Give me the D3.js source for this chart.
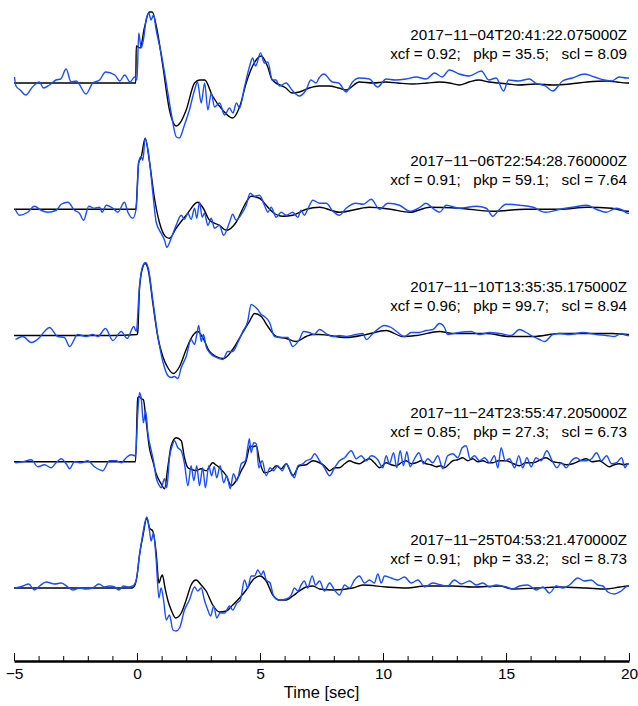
<!DOCTYPE html>
<html>
<head>
<meta charset="utf-8">
<script src="https://cdn.jsdelivr.net/npm/d3@7"></script>
<style>
  body { margin: 0; background: #fff; }
  text { font-family: "Liberation Sans", Arial, Helvetica, sans-serif; }
</style>
</head>
<body>
<script>
// traces: [time (sec), relative amplitude]; black = synthetic, blue = observed
var synth1 = [[-5,0],[-0.05,0],[-0.03,37],[0.13,35],[0.3,55],[0.5,71],[0.62,71],[0.8,55],[1.05,17],[1.32,-27],[1.6,-43],[1.75,-40],[2.0,-27],[2.34,0],[2.55,3],[2.75,3],[3.07,-13],[3.48,-27],[3.88,-35],[4.17,-24],[4.44,0],[4.7,17],[5.05,27],[5.3,17],[5.5,3],[6.05,-5],[6.3,-10],[6.6,-9],[7.0,-5],[7.4,-3],[7.8,-3],[8.2,-5],[8.5,-7],[9.04,1],[9.6,0],[10.1,1],[10.6,0],[11.2,-1],[11.8,0],[12.3,1],[12.7,0],[13.1,-2],[13.5,1],[13.9,3],[14.3,1],[14.7,0],[15.1,-1],[15.5,-2],[16.2,-1],[16.9,-2],[17.6,-1],[18.3,1],[19.1,2],[19.5,1],[19.9,0],[20,0]];
var obs1 = [[-4.98,6],[-4.92,-3],[-4.75,-7],[-4.52,-12],[-4.25,-4],[-3.97,1],[-3.8,-5],[-3.56,-2],[-3.29,3],[-3.1,4],[-2.88,14],[-2.68,1],[-2.47,2],[-2.07,-11],[-1.8,0],[-1.52,3],[-1.28,11],[-0.9,8],[-0.7,2],[-0.5,8],[-0.28,1],[-0.1,6],[0.0,3],[0.07,50],[0.17,35],[0.26,43],[0.37,63],[0.48,70],[0.57,63],[0.67,68],[0.78,53],[0.98,30],[1.19,0],[1.39,-30],[1.6,-54],[1.72,-55],[1.93,-42],[2.13,-27],[2.34,-7],[2.46,1],[2.61,-20],[2.75,0],[2.88,-27],[3.02,-10],[3.15,-24],[3.36,-20],[3.56,-32],[3.76,-25],[3.9,-30],[4.04,-20],[4.17,-25],[4.37,-4],[4.57,16],[4.7,25],[4.82,17],[5.02,30],[5.18,20],[5.32,21],[5.5,3],[5.65,3],[5.79,-3],[6.06,0],[6.3,-7],[6.6,-13],[6.87,-7],[7.07,3],[7.28,0],[7.4,5],[7.6,9],[7.94,1],[8.2,0],[8.5,-9],[8.76,1],[9.04,5],[9.45,4],[9.78,-4],[10.13,4],[10.5,3],[10.94,4],[11.35,6],[11.75,4],[12.1,10],[12.4,6],[12.7,13],[13.1,9],[13.5,7],[14.0,12],[14.3,3],[14.6,5],[14.9,-8],[15.1,3],[15.5,2],[15.95,4],[16.2,0],[16.6,-3],[16.9,-8],[17.3,2],[17.7,5],[18.2,9],[18.6,6],[19.0,3],[19.3,2],[19.6,6],[19.9,5],[20,5]];

var synth2 = [[-5,0],[-0.05,0],[0.07,47],[0.17,52],[0.33,71],[0.51,47],[0.71,11],[0.91,-13],[1.19,-28],[1.32,-29],[1.59,-19],[2.0,-6],[2.47,7],[2.67,2],[2.95,-11],[3.35,-16],[3.63,-21],[4.03,-13],[4.37,4],[4.64,13],[4.98,11],[5.25,4],[5.52,-3],[5.93,-7],[6.33,-6],[6.88,0],[7.42,2],[8.23,-3],[9.45,2],[10.3,0],[11.1,-3],[11.9,2],[13.1,1],[14.45,-2],[15.8,0],[17.2,0],[18.3,2],[19.3,1],[19.95,-2],[20,-2]];
var obs2 = [[-4.95,0],[-4.78,-6],[-4.44,-3],[-4.17,3],[-3.9,-1],[-3.63,-3],[-3.28,-1],[-3.08,5],[-2.81,7],[-2.54,-1],[-2.34,-4],[-2.17,-11],[-1.96,3],[-1.73,1],[-1.52,2],[-1.42,-3],[-1.25,4],[-0.98,1],[-0.78,-3],[-0.51,7],[-0.37,-3],[-0.17,-9],[-0.03,1],[0.07,47],[0.17,53],[0.24,49],[0.33,71],[0.48,54],[0.64,17],[0.78,-13],[0.98,-24],[1.12,-31],[1.21,-38],[1.39,-29],[1.59,-16],[1.8,-6],[1.93,-10],[2.07,-4],[2.2,-10],[2.34,1],[2.43,-9],[2.54,7],[2.65,-8],[2.74,-4],[2.88,-16],[3.02,-9],[3.15,-19],[3.35,-16],[3.52,-26],[3.76,-13],[3.89,-5],[4.03,-11],[4.24,-5],[4.44,4],[4.6,16],[4.78,13],[4.98,14],[5.18,4],[5.32,-3],[5.45,2],[5.66,-8],[5.86,-3],[6.07,-6],[6.33,-3],[6.54,-8],[6.67,-1],[6.8,-6],[6.94,0],[7.15,9],[7.42,6],[7.7,6],[7.96,-2],[8.23,-6],[8.5,1],[8.9,6],[9.2,5],[9.52,10],[9.86,0],[10.2,6],[10.67,4],[11.1,-2],[11.5,2],[11.75,6],[12.02,1],[12.3,-3],[12.57,4],[13.1,1],[13.8,3],[14.2,1],[14.46,-7],[14.7,-1],[15.0,5],[15.55,4],[16.1,2],[16.6,-3],[17.2,0],[17.7,2],[18.28,4],[18.67,0],[19.07,-3],[19.48,1],[19.75,-1],[19.94,-4],[20,-4]];

var synth3 = [[-5,0],[-1,0],[0.0,1],[0.03,3],[0.1,46],[0.21,66],[0.33,72],[0.47,64],[0.64,33],[0.85,-2],[1.05,-21],[1.25,-32],[1.48,-38],[1.73,-31],[2.0,-14],[2.27,0],[2.47,4],[2.67,-2],[2.95,-16],[3.22,-21],[3.52,-23],[3.89,-14],[4.3,3],[4.57,14],[4.78,22],[5.05,19],[5.32,9],[5.66,-1],[6.07,-3],[6.47,-6],[6.88,-1],[7.15,1],[7.42,1],[8.5,-2],[9.32,1],[10.13,5],[10.8,-1],[11.35,0],[12.3,4],[12.84,2],[14.2,2],[15.14,-1],[16.1,-1],[17.2,2],[18.26,2],[19.34,2],[19.95,1],[20,1]];
var obs3 = [[-4.94,-4],[-4.64,-1],[-4.3,-7],[-3.96,-2],[-3.76,4],[-3.56,8],[-3.22,-1],[-2.95,-2],[-2.74,-11],[-2.41,1],[-2.07,-1],[-1.8,1],[-1.59,-1],[-1.28,7],[-0.98,-5],[-0.64,4],[-0.4,-3],[-0.13,9],[-0.03,4],[0.1,49],[0.24,70],[0.35,73],[0.47,66],[0.64,36],[0.85,-1],[1.05,-26],[1.25,-40],[1.39,-42],[1.52,-41],[1.66,-43],[1.8,-32],[2.0,-21],[2.2,-4],[2.34,-9],[2.43,1],[2.51,10],[2.61,-6],[2.7,1],[2.81,-11],[2.95,-17],[3.22,-22],[3.49,-24],[3.69,-16],[3.89,-16],[4.1,-7],[4.3,4],[4.5,14],[4.64,31],[4.78,29],[4.91,26],[5.05,21],[5.18,19],[5.39,13],[5.59,-1],[5.86,-2],[6.13,-2],[6.33,-11],[6.6,-4],[6.77,4],[7.0,3],[7.2,1],[7.42,6],[7.69,2],[7.96,-1],[8.23,0],[8.5,-1],[8.9,1],[9.18,2],[9.32,-4],[9.59,2],[10.06,10],[10.33,8],[10.6,3],[10.87,-1],[11.15,3],[11.48,3],[11.76,5],[12.03,6],[12.3,12],[12.5,8],[12.63,1],[13.1,3],[13.58,4],[13.92,1],[14.33,3],[14.74,2],[15.21,0],[15.55,6],[15.82,3],[16.1,-1],[16.36,-4],[16.57,-6],[16.9,1],[17.17,2],[17.58,1],[18.12,3],[18.67,1],[19.07,0],[19.41,-1],[19.68,2],[19.95,0],[20,0]];

var synth4 = [[-5,0],[-0.06,0],[0.03,64],[0.1,65],[0.18,63],[0.26,62],[0.37,41],[0.51,13],[0.64,1],[0.78,-12],[0.98,-22],[1.12,-27],[1.25,-6],[1.39,16],[1.59,24],[1.8,21],[1.93,4],[2.07,-6],[2.25,-8],[2.4,-9],[2.6,-7],[2.81,-9],[3.08,-1],[3.2,-3],[3.35,-6],[3.63,-14],[3.83,-24],[4.03,-19],[4.24,-9],[4.44,1],[4.6,16],[4.71,15],[4.85,16],[4.98,1],[5.18,-11],[5.45,-9],[5.66,-4],[5.86,-7],[6.07,-2],[6.2,-8],[6.33,-14],[6.6,-4],[6.88,-3],[7.15,1],[7.42,-1],[7.62,-4],[7.83,-9],[8.03,-6],[8.23,-6],[8.44,-2],[8.64,1],[8.84,-1],[9.04,-2],[9.25,1],[9.45,3],[9.65,-1],[9.86,-6],[10.13,-1],[10.33,-3],[10.54,-4],[10.74,-1],[10.94,1],[11.15,-2],[11.35,-1],[11.55,1],[11.75,-2],[11.95,-3],[12.16,-5],[12.35,-4],[12.5,-6],[12.7,-2],[12.84,1],[13.04,2],[13.24,4],[13.45,1],[13.65,3],[13.85,0],[14.06,1],[14.26,-1],[14.46,-1],[14.7,1],[15.0,1],[15.3,-2],[15.55,-4],[15.8,-1],[16.1,-1],[16.4,2],[16.63,4],[16.9,0],[17.17,-1],[17.45,-3],[17.72,-2],[18.0,1],[18.26,3],[18.5,0],[18.8,1],[19.0,-2],[19.2,-5],[19.4,-3],[19.6,-2],[19.8,-3],[19.95,-2],[20,-2]];
var obs4 = [[-4.95,-1],[-4.64,0],[-4.3,2],[-4.03,-5],[-3.76,-3],[-3.49,-6],[-3.29,-1],[-3.08,3],[-2.88,-2],[-2.74,-7],[-2.54,0],[-2.27,-1],[-2.0,1],[-1.73,-5],[-1.39,-9],[-1.12,1],[-0.85,1],[-0.64,-1],[-0.44,4],[-0.24,7],[-0.06,6],[0.03,48],[0.1,69],[0.17,64],[0.26,39],[0.35,51],[0.44,29],[0.58,11],[0.67,1],[0.78,-16],[0.89,-23],[0.98,-26],[1.12,-17],[1.21,-26],[1.32,4],[1.43,16],[1.52,21],[1.66,14],[1.8,11],[1.93,-2],[2.07,-24],[2.2,-4],[2.31,-19],[2.43,-4],[2.54,-24],[2.67,-6],[2.78,-26],[2.92,-4],[3.03,-14],[3.14,-5],[3.24,-16],[3.38,-4],[3.52,-21],[3.65,-14],[3.79,-27],[3.92,-12],[4.06,-19],[4.24,-2],[4.41,1],[4.5,14],[4.57,23],[4.64,9],[4.74,19],[4.85,18],[4.95,-6],[5.09,1],[5.25,-14],[5.41,-6],[5.55,-9],[5.72,-4],[5.9,-9],[6.07,-2],[6.27,-11],[6.4,-16],[6.54,-4],[6.74,-2],[6.88,1],[7.08,3],[7.22,8],[7.42,1],[7.62,-6],[7.83,-14],[8.03,-6],[8.23,1],[8.44,4],[8.71,11],[8.91,3],[9.11,6],[9.32,1],[9.52,6],[9.79,2],[9.99,-6],[10.13,6],[10.26,-2],[10.43,9],[10.56,-6],[10.7,11],[10.83,-4],[10.97,10],[11.1,-5],[11.28,3],[11.46,9],[11.65,-2],[11.82,3],[12.02,-1],[12.23,6],[12.43,-7],[12.63,6],[12.84,8],[13.04,4],[13.22,14],[13.38,16],[13.54,3],[13.72,6],[13.92,1],[14.13,4],[14.33,-1],[14.53,6],[14.67,-6],[14.8,14],[14.97,1],[15.14,3],[15.35,-6],[15.52,6],[15.68,-6],[15.85,4],[16.02,-5],[16.22,4],[16.43,1],[16.66,11],[16.84,3],[17.07,-6],[17.25,-1],[17.45,-6],[17.66,1],[17.86,4],[18.07,1],[18.27,1],[18.48,3],[18.68,9],[18.88,1],[19.09,6],[19.29,-2],[19.49,-1],[19.7,4],[19.84,-6],[19.95,-2],[20,-2]];

var synth5 = [[-5,0],[-0.2,0],[-0.1,2],[0.0,12],[0.1,33],[0.24,52],[0.4,70],[0.51,60],[0.64,57],[0.78,35],[0.89,5],[0.98,11],[1.03,13],[1.14,0],[1.25,-12],[1.39,-22],[1.57,-30],[1.8,-25],[2.0,-12],[2.2,3],[2.4,8],[2.61,3],[2.81,-3],[3.08,-17],[3.35,-24],[3.63,-23],[3.89,-17],[4.17,-10],[4.44,-2],[4.71,8],[4.98,12],[5.25,7],[5.52,-7],[5.79,-12],[6.07,-12],[6.33,-8],[6.6,-3],[6.88,1],[7.15,2],[7.42,-1],[7.96,-2],[8.77,0],[9.18,3],[10.13,1],[10.94,0],[11.75,2],[12.84,2],[13.65,1],[14.74,2],[15.28,-1],[16.23,0],[17.17,1],[18.27,0],[19.08,-1],[19.63,1],[19.95,2],[20,2]];
var obs5 = [[-4.95,0],[-4.64,2],[-4.4,4],[-4.17,-2],[-3.96,2],[-3.69,6],[-3.35,4],[-3.08,5],[-2.81,1],[-2.61,-2],[-2.34,0],[-2.07,-1],[-1.8,0],[-1.55,4],[-1.32,1],[-1.12,2],[-0.91,1],[-0.74,-2],[-0.55,2],[-0.37,1],[-0.17,2],[-0.03,8],[0.1,32],[0.21,50],[0.4,71],[0.51,57],[0.57,47],[0.67,55],[0.78,28],[0.89,-10],[0.98,0],[1.08,-12],[1.19,-32],[1.32,-27],[1.46,-42],[1.59,-43],[1.73,-40],[1.93,-22],[2.13,-12],[2.34,1],[2.47,-3],[2.61,0],[2.74,-12],[2.88,-22],[2.99,-28],[3.12,-18],[3.24,-30],[3.38,-25],[3.56,-25],[3.76,-18],[3.89,-22],[4.06,-15],[4.2,-12],[4.37,8],[4.5,0],[4.64,12],[4.78,12],[4.91,18],[5.05,13],[5.14,17],[5.25,8],[5.41,5],[5.55,-8],[5.79,-12],[6.07,-11],[6.27,-7],[6.4,0],[6.54,-3],[6.67,3],[6.8,7],[6.94,0],[7.12,12],[7.26,3],[7.42,7],[7.62,-3],[7.83,5],[8.03,-2],[8.23,-7],[8.44,3],[8.64,0],[8.84,8],[9.04,12],[9.25,5],[9.45,8],[9.65,5],[9.79,14],[9.93,5],[10.06,12],[10.33,10],[10.6,8],[10.87,11],[11.15,5],[11.42,8],[11.69,1],[12.02,5],[12.37,3],[12.63,2],[12.9,8],[13.18,4],[13.52,7],[13.79,3],[14.06,5],[14.33,1],[14.6,3],[15.01,1],[15.28,-1],[15.55,2],[15.89,3],[16.23,-2],[16.5,1],[16.77,-5],[17.04,2],[17.31,0],[17.58,3],[17.92,10],[18.19,7],[18.46,8],[18.73,3],[18.94,2],[19.14,-4],[19.41,-6],[19.68,-3],[19.95,2],[20,2]];

var dates = ["2017\u221211\u221204T20:41:22.075000Z", "2017\u221211\u221206T22:54:28.760000Z", "2017\u221211\u221210T13:35:35.175000Z", "2017\u221211\u221224T23:55:47.205000Z", "2017\u221211\u221225T04:53:21.470000Z"];
var xcf = ["0.92", "0.91", "0.96", "0.85", "0.91"];
var pkp = ["35.5", "59.1", "99.7", "27.3", "33.2"];
var scl = ["8.09", "7.64", "8.94", "6.73", "8.73"];

var synths = [synth1, synth2, synth3, synth4, synth5];
var obss = [obs1, obs2, obs3, obs4, obs5];

var w = 638;
var h = 706;

var svg = d3.select("body")
	.append("svg")
	.attr("width", w)
	.attr("height", h);

var xScale = d3.scaleLinear()
	.domain([-5, 20])
	.range([14, 629]);

// baseline of each trace
var rowScale = d3.scalePoint()
	.domain(d3.range(dates.length))
	.range([83, 588]);

var line = d3.line()
	.curve(d3.curveMonotoneX);

for (var i = 0; i < dates.length; i++) {
	var base = rowScale(i);
	var yScale = d3.scaleLinear()
		.domain([-100, 100])
		.range([base + 100, base - 100]);

	line.x(function(d) { return xScale(d[0]); })
		.y(function(d) { return yScale(d[1]); });

	svg.append("path")
		.attr("d", line(synths[i]))
		.attr("fill", "none")
		.attr("stroke", "#000")
		.attr("stroke-width", 1.4)
		.attr("stroke-linejoin", "round");

	svg.append("path")
		.attr("d", line(obss[i]))
		.attr("fill", "none")
		.attr("stroke", "#1a4dff")
		.attr("stroke-width", 1.4)
		.attr("stroke-linejoin", "round");

	svg.append("text")
		.attr("x", 627)
		.attr("y", base - 43.5)
		.attr("text-anchor", "end")
		.attr("font-size", "15.2px")
		.text(dates[i]);

	svg.append("text")
		.attr("x", 627)
		.attr("y", base - 24.5)
		.attr("text-anchor", "end")
		.attr("font-size", "15.2px")
		.style("white-space", "pre")
		.text("xcf = " + xcf[i] + ";   pkp = " + pkp[i] + ";   scl = " + scl[i]);
}

var axisY = 661;

// minor ticks every second
svg.append("g")
	.attr("transform", "translate(0," + axisY + ")")
	.call(d3.axisBottom(xScale).tickValues(d3.range(-5, 21, 1)).tickSizeInner(-5).tickSizeOuter(0).tickFormat(""))
	.call(function(g) { g.select(".domain").remove(); });

// major ticks with labels
var xAxis = d3.axisBottom(xScale)
	.tickValues(d3.range(-5, 21, 5))
	.tickSizeInner(-8)
	.tickSizeOuter(0)
	.tickPadding(7);

var gx = svg.append("g")
	.attr("transform", "translate(0," + axisY + ")")
	.call(xAxis);
gx.select(".domain").attr("stroke-width", 2.4);
gx.selectAll("text")
	.attr("font-size", "15.5px")
	.attr("font-family", "Liberation Sans, Arial, sans-serif")
	.attr("fill", "#000");

svg.append("text")
	.attr("x", xScale(7.5))
	.attr("y", 698)
	.attr("text-anchor", "middle")
	.attr("font-size", "16.5px")
	.text("Time [sec]");
</script>
</body>
</html>
